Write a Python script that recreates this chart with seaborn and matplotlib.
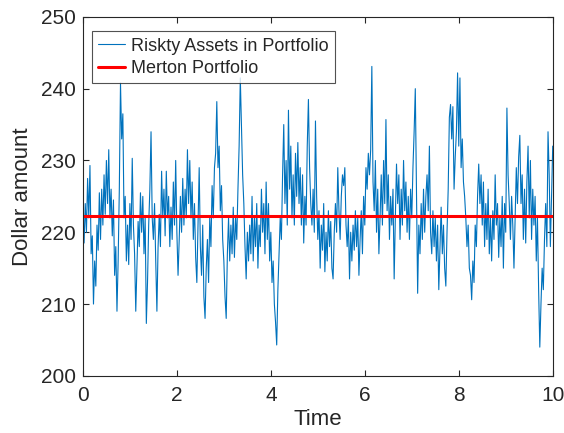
import numpy as np
import pandas as pd
import matplotlib
matplotlib.use("Agg")
import matplotlib.pyplot as plt
import seaborn as sns

# ==========================
# Data (one value every 0.025 time units)
# ==========================

dt = 0.025
risky = [
    # 0.0 - 0.475
    223, 218.5, 224, 220, 227.5, 222, 229.3, 217, 219.5, 210,
    216, 212.5, 221, 217.5, 225.5, 219, 226, 221, 228, 222.5,
    # 0.5 - 0.975
    230, 224, 231.5, 222, 226, 219.5, 224.5, 214, 218, 209,
    216, 226, 240.8, 233, 236.5, 222, 225, 216, 221, 215.5,
    # 1.0 - 1.475
    224, 219, 230.3, 221, 217, 209, 215, 221.5, 218, 225.5,
    220, 225, 217, 222, 207.3, 213, 221, 226, 234, 222,
    # 1.5 - 1.975
    219, 224, 216, 209, 218, 222.5, 218, 228.5, 222, 226,
    219.5, 228.5, 222, 225, 218, 223.5, 219, 227, 221, 230,
    # 2.0 - 2.475
    220, 214, 219, 225, 220, 227.5, 221, 226, 222, 231.5,
    224, 230, 222, 227, 219, 224, 216.5, 213, 221, 229,
    # 2.5 - 2.975
    218, 214, 221, 211, 208, 215, 219, 213, 222, 218,
    226.5, 222, 229, 231, 238.2, 229, 232, 223, 226.5, 219,
    # 3.0 - 3.475
    216, 211, 208, 217, 222, 216, 221, 217, 223.5, 216.5,
    222, 219, 226, 232, 241.5, 235, 228, 224, 218, 213.5,
    # 3.5 - 3.975
    220, 216, 221, 217, 225, 216, 222, 218, 224, 215,
    221, 218, 226, 220, 224, 217, 227, 219, 224, 216,
    # 4.0 - 4.475
    220, 213, 216, 210, 207.5, 204.3, 212, 217, 222, 219,
    228, 235, 224, 230, 221, 237, 226, 232, 222, 228,
    # 4.5 - 4.975
    221, 231, 225, 232.5, 224, 229, 221, 228, 218.5, 225,
    221, 232, 238.5, 229, 224, 221, 226, 220, 235.5, 225,
    # 5.0 - 5.475
    219, 223, 215, 221, 217.5, 224, 214.5, 220, 216, 223,
    218, 221.5, 215, 213.5, 220, 224, 220, 229, 223, 219,
    # 5.5 - 5.975
    225, 228, 226.5, 229, 221, 218, 222, 213.5, 220, 216,
    221, 217.5, 223, 218, 222, 214, 219, 223, 217, 225,
    # 6.0 - 6.475
    221, 229, 226, 231, 228, 231.5, 243.1, 227, 223, 230,
    220, 226, 217, 222, 228, 221, 230, 224, 235.7, 223,
    # 6.5 - 6.975
    228, 219, 225, 221, 226, 213.5, 222, 229.5, 224, 228,
    219, 226, 221, 230, 223, 227, 220, 225, 219, 226,
    # 7.0 - 7.475
    222, 229, 234, 240, 226, 211.5, 221, 217, 224, 219,
    226, 220, 225, 228, 223, 232, 220, 217, 223, 218,
    # 7.5 - 7.975
    222, 216, 221, 212, 218, 223.5, 217, 221, 215, 212.5,
    220, 226, 236, 237.8, 233, 237.5, 226, 230.5, 234, 242.2,
    # 8.0 - 8.475
    232, 241.5, 229, 233, 227, 225, 222, 218, 221, 215,
    214, 210.6, 216, 213, 221, 218, 225, 229.5, 224, 228,
    # 8.5 - 8.975
    221, 227, 218, 224, 219, 226, 217, 222, 216, 223,
    219, 228, 221, 224, 216.5, 222, 218, 225, 215, 224,
    # 9.0 - 9.475
    220, 237.3, 228, 224, 219, 225, 221, 215, 222, 229,
    224, 230.5, 233.5, 224, 228, 219, 226, 218.5, 227, 232,
    # 9.5 - 10.0
    222, 230, 219, 226, 221, 225, 216, 222, 212, 204,
    210, 215, 212, 219, 224, 218, 234, 228, 218, 225,
    232,
]
merton_value = 222.2

time = np.arange(len(risky)) * dt
df = pd.DataFrame({"Time": time, "Risky": risky})

# ==========================
# Plot
# ==========================

sns.set_style("ticks")
plt.rcParams["font.family"] = ["Liberation Sans", "DejaVu Sans"]

fig = plt.figure(figsize=(5.64, 4.33), dpi=100)
ax = fig.add_axes([0.147, 0.132, 0.833, 0.829])

sns.lineplot(data=df, x="Time", y="Risky", ax=ax, color="#0072BD",
             linewidth=0.8, label="Riskty Assets in Portfolio")
ax.axhline(merton_value, color="#FF0000", linewidth=2.2, label="Merton Portfolio")

ax.set_xlim(0, 10)
ax.set_ylim(200, 250)
ax.set_xticks([0, 2, 4, 6, 8, 10])
ax.set_yticks([200, 210, 220, 230, 240, 250])
ax.set_xlabel("Time", fontsize=16, labelpad=3)
ax.set_ylabel("Dollar amount", fontsize=16, labelpad=6)
ax.tick_params(direction="in", top=True, right=True, labelsize=15,
               length=4, width=0.8, colors="#262626")
ax.tick_params(axis="x", pad=7)
ax.tick_params(axis="y", pad=5)
for s in ax.spines.values():
    s.set_color("#262626")
    s.set_linewidth(0.8)

leg = ax.legend(loc="upper left", fontsize=13, frameon=True, fancybox=False,
                edgecolor="#262626", handlelength=1.5, borderpad=0.35,
                labelspacing=0.3, handletextpad=0.3,
                bbox_to_anchor=(0.0, 0.985))
leg.get_frame().set_linewidth(0.8)

fig.savefig("out.png", dpi=100)
